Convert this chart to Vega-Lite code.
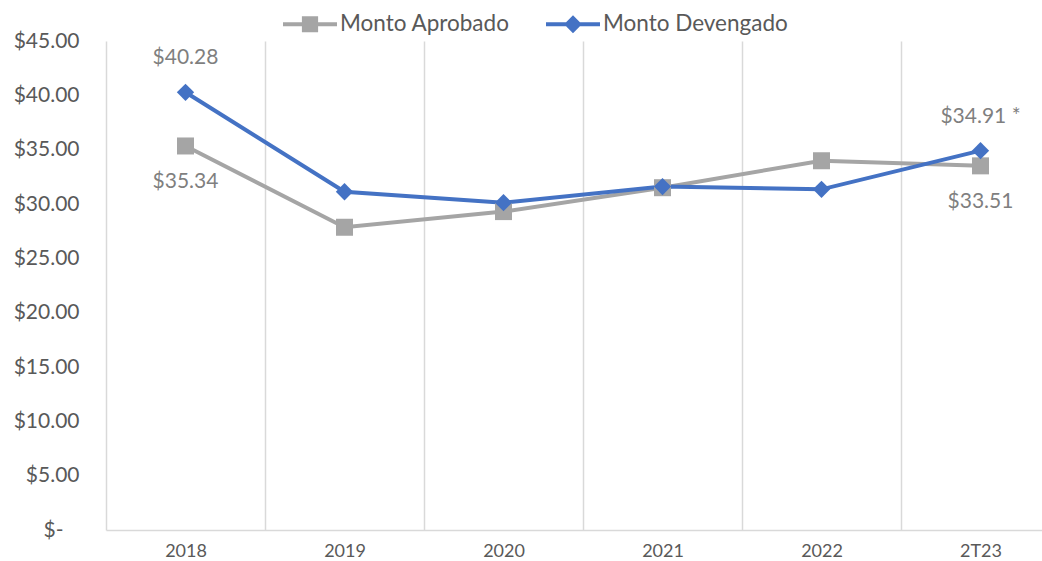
{
  "$schema": "https://vega.github.io/schema/vega-lite/v6.json",
  "width": 936,
  "height": 489,
  "autosize": {"type": "none"},
  "padding": {"left": 106, "top": 41, "right": 0, "bottom": 31},
  "background": "white",
  "config": {"view": {"stroke": null}, "font": "Lato"},
  "data": {
    "values": [
      {"periodo": "2018", "serie": "Monto Aprobado", "valor": 35.34, "etiqueta": "$35.34"},
      {"periodo": "2019", "serie": "Monto Aprobado", "valor": 27.86, "etiqueta": ""},
      {"periodo": "2020", "serie": "Monto Aprobado", "valor": 29.3, "etiqueta": ""},
      {"periodo": "2021", "serie": "Monto Aprobado", "valor": 31.5, "etiqueta": ""},
      {"periodo": "2022", "serie": "Monto Aprobado", "valor": 33.98, "etiqueta": ""},
      {"periodo": "2T23", "serie": "Monto Aprobado", "valor": 33.51, "etiqueta": "$33.51"},
      {"periodo": "2018", "serie": "Monto Devengado", "valor": 40.28, "etiqueta": "$40.28"},
      {"periodo": "2019", "serie": "Monto Devengado", "valor": 31.13, "etiqueta": ""},
      {"periodo": "2020", "serie": "Monto Devengado", "valor": 30.12, "etiqueta": ""},
      {"periodo": "2021", "serie": "Monto Devengado", "valor": 31.6, "etiqueta": ""},
      {"periodo": "2022", "serie": "Monto Devengado", "valor": 31.35, "etiqueta": ""},
      {"periodo": "2T23", "serie": "Monto Devengado", "valor": 34.91, "etiqueta": "$34.91 *"}
    ]
  },
  "encoding": {
    "x": {
      "field": "periodo",
      "type": "ordinal",
      "sort": ["2018", "2019", "2020", "2021", "2022", "2T23"],
      "scale": {"type": "band", "range": [0, 954], "paddingInner": 0, "paddingOuter": 0},
      "axis": {
        "title": null,
        "tickBand": "extent",
        "grid": true,
        "gridColor": "#d9d9d9",
        "gridWidth": 1.5,
        "domainColor": "#d9d9d9",
        "domainWidth": 1.5,
        "ticks": false,
        "labelFontSize": 18,
        "labelColor": "#595959",
        "labelPadding": 12,
        "labelAngle": 0
      }
    },
    "y": {
      "field": "valor",
      "type": "quantitative",
      "scale": {"domain": [0, 45]},
      "axis": {
        "title": null,
        "values": [0, 5, 10, 15, 20, 25, 30, 35, 40, 45],
        "grid": false,
        "domain": false,
        "ticks": false,
        "labelFontSize": 21,
        "labelColor": "#595959",
        "labelPadding": {"condition": {"test": "datum.value === 0", "value": 43}, "value": 27},
        "labelExpr": "datum.value === 0 ? '$-' : '$' + format(datum.value, '.2f')"
      }
    },
    "color": {
      "field": "serie",
      "type": "nominal",
      "scale": {"domain": ["Monto Aprobado", "Monto Devengado"], "range": ["#A5A5A5", "#4472C4"]},
      "legend": {
        "orient": "none",
        "legendX": 177,
        "legendY": -44,
        "direction": "horizontal",
        "title": null,
        "padding": 0,
        "symbolSize": 2916,
        "symbolType": "square",
        "labelFontSize": 22.5,
        "labelLimit": 400,
        "labelColor": "#595959",
        "labelOffset": 3,
        "columnPadding": 36,
        "symbolStrokeWidth": 0,
        "encode": {
          "symbols": {
            "update": {
              "shape": {"signal": "datum.value === 'Monto Aprobado' ? 'M-1,-0.07H1V0.07H-1ZM-0.3,-0.3H0.3V0.3H-0.3Z' : 'M-1,-0.07H1V0.07H-1ZM0,-0.33L0.33,0L0,0.33L-0.33,0Z'"},
              "fill": {"signal": "datum.value === 'Monto Aprobado' ? '#A5A5A5' : '#4472C4'"},
              "fillOpacity": {"value": 1},
              "opacity": {"value": 1},
              "strokeWidth": {"value": 0}
            }
          }
        }
      }
    }
  },
  "layer": [
    {
      "mark": {"type": "line", "strokeWidth": 4}
    },
    {
      "transform": [{"filter": "datum.serie === 'Monto Aprobado'"}],
      "mark": {"type": "point", "shape": "square", "filled": true, "size": 289, "opacity": 1}
    },
    {
      "transform": [{"filter": "datum.serie === 'Monto Devengado'"}],
      "mark": {"type": "point", "shape": "diamond", "filled": true, "size": 300, "opacity": 1}
    },
    {
      "transform": [{"filter": "datum.serie === 'Monto Devengado' && datum.etiqueta !== ''"}],
      "mark": {"type": "text", "fontSize": 21, "dy": -34},
      "encoding": {"text": {"field": "etiqueta"}, "color": {"value": "#7f7f7f"}}
    },
    {
      "transform": [{"filter": "datum.serie === 'Monto Aprobado' && datum.etiqueta !== ''"}],
      "mark": {"type": "text", "fontSize": 21, "dy": 36},
      "encoding": {"text": {"field": "etiqueta"}, "color": {"value": "#7f7f7f"}}
    }
  ]
}
